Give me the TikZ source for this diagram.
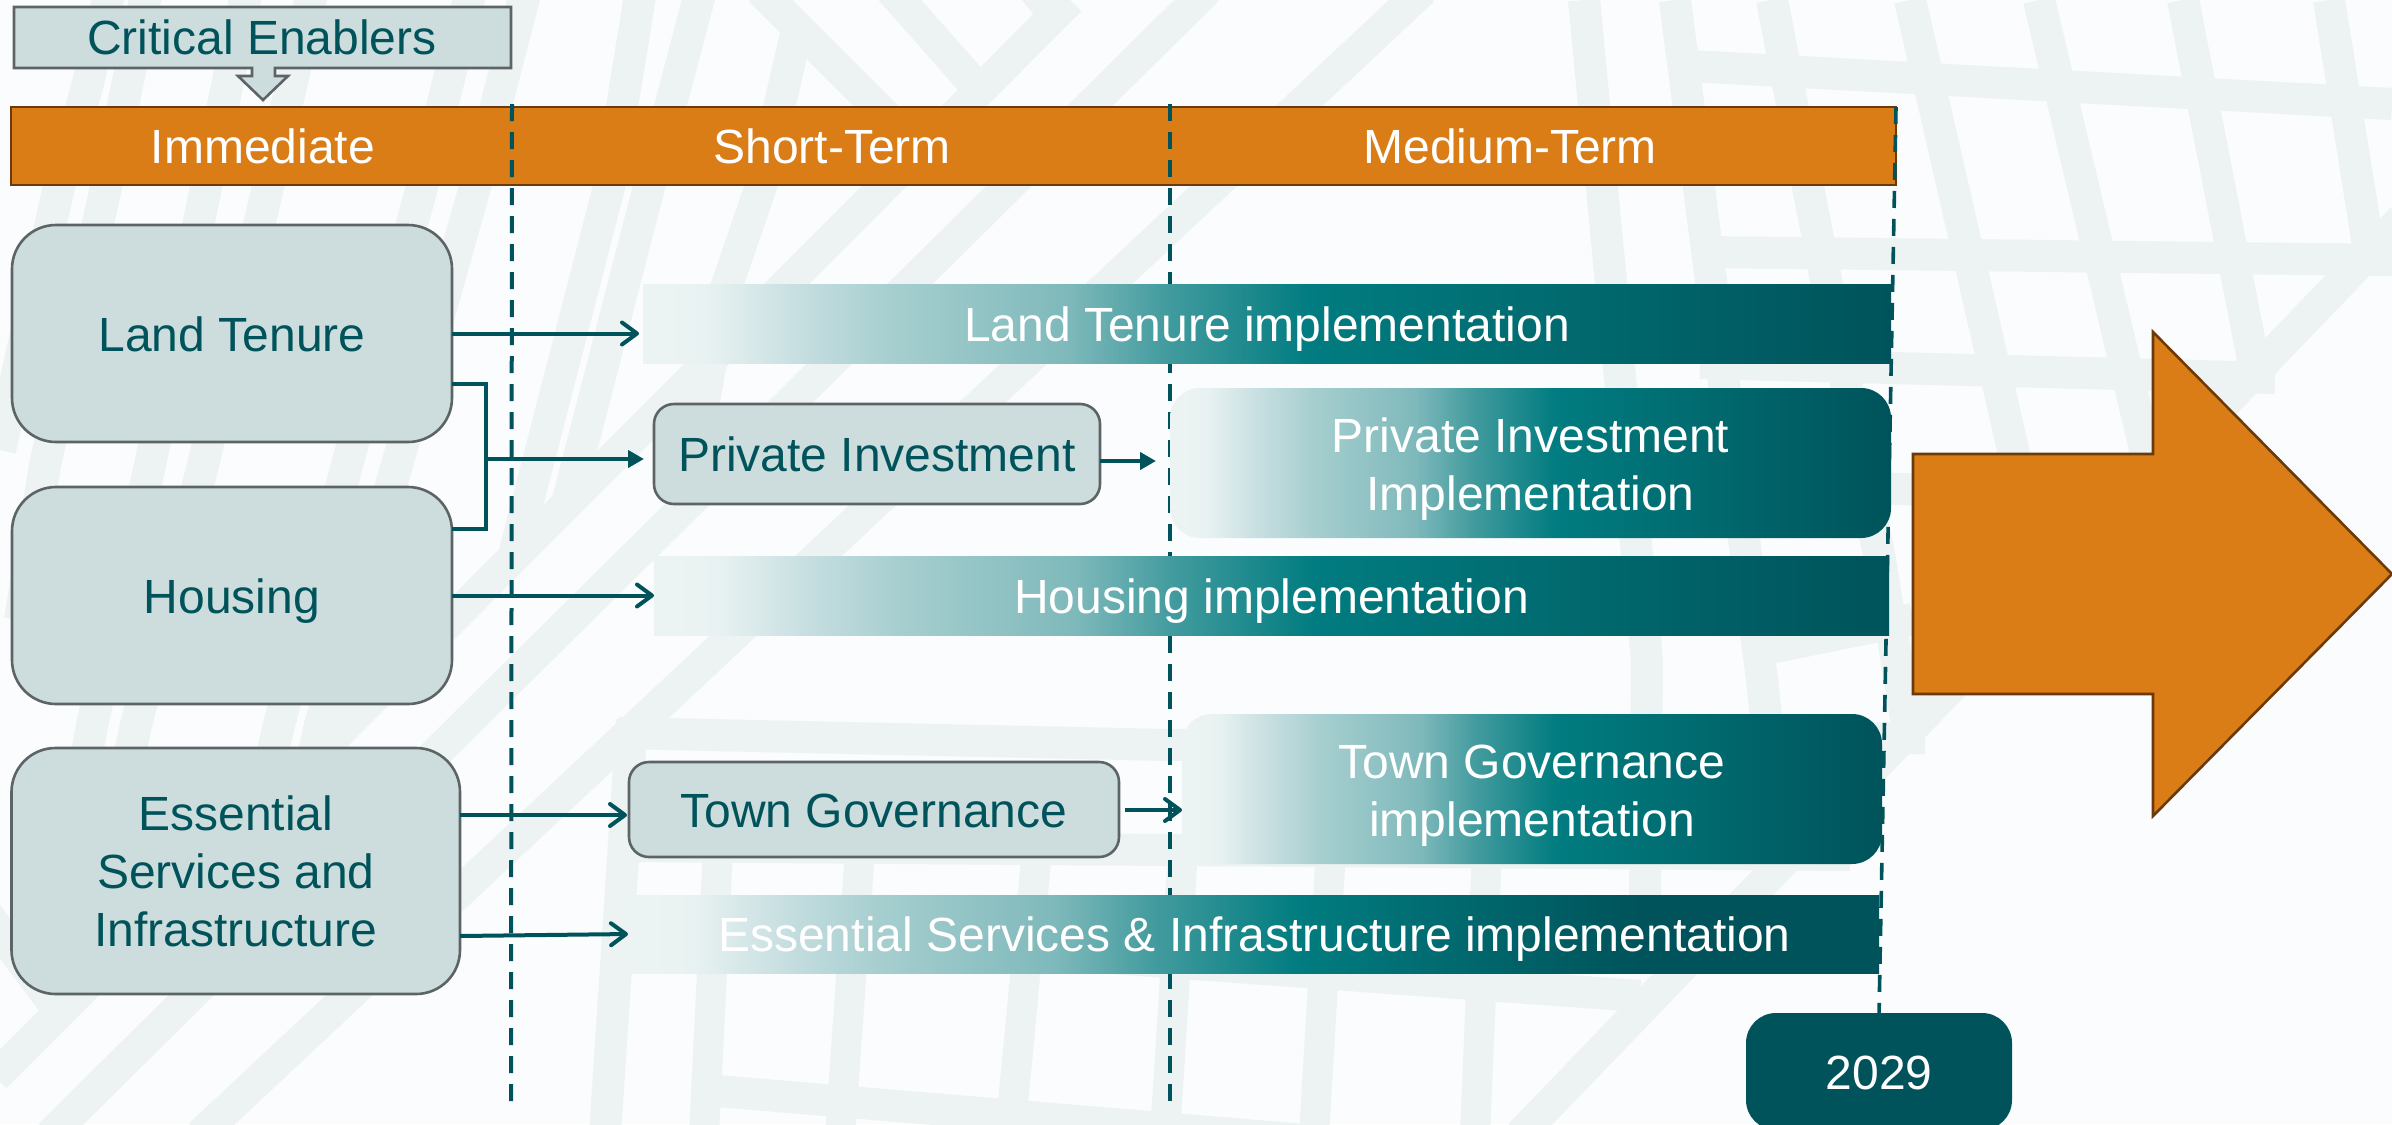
\documentclass[tikz,border=0pt]{standalone}
\usepackage{fontspec}
\setmainfont{Liberation Sans}
\usetikzlibrary{arrows.meta,calc}
\definecolor{bgc}{HTML}{FBFCFE}
\definecolor{streetc}{HTML}{ECF3F2}
\definecolor{tealc}{HTML}{00535A}
\definecolor{boxc}{HTML}{CDDDDD}
\definecolor{edgec}{HTML}{5C6465}
\definecolor{orangec}{HTML}{DB7D17}
\definecolor{brownc}{HTML}{6B3A0A}
\definecolor{ga}{HTML}{ECF3F3}
\definecolor{gb}{HTML}{E9F2F2}
\definecolor{gc}{HTML}{C4DDDF}
\definecolor{gd}{HTML}{A6CECF}
\definecolor{gdd}{HTML}{7FB9BB}
\definecolor{ge}{HTML}{429B9E}
\definecolor{gf}{HTML}{017C80}
\pgfdeclarehorizontalshading{implshade}{100bp}{color(0bp)=(ga); color(25bp)=(ga); color(27.5bp)=(gb); color(31.5bp)=(gc); color(35bp)=(gd); color(42bp)=(gdd); color(46bp)=(ge); color(51.7bp)=(gf); color(75bp)=(tealc); color(100bp)=(tealc)}
\pgfdeclarehorizontalshading{implshadeb}{100bp}{color(0bp)=(ga); color(25bp)=(ga); color(27.5bp)=(gb); color(31.5bp)=(gc); color(35bp)=(gd); color(42bp)=(gdd); color(46bp)=(ge); color(51.7bp)=(gf); color(65.5bp)=(tealc); color(100bp)=(tealc)}
\newcommand{\topgap}{\rule{0pt}{23pt}}
\tikzset{
  street/.style={draw=streetc,line width=16pt},
  txt/.style={font=\fontsize{24}{29}\selectfont,inner sep=0pt,outer sep=0pt,align=center},
  one/.style={text height=21.5pt,text depth=4pt},
  tealtxt/.style={txt,text=tealc},
  whitetxt/.style={txt,text=white},
  sbox/.style={tealtxt,draw=edgec,line width=1.3pt,fill=boxc},
  bigbox/.style={sbox,rounded corners=22pt},
  midbox/.style={sbox,rounded corners=10pt},
  implbar/.style={whitetxt,shade,shading=implshade,shading angle=0},
  implbarb/.style={whitetxt,shade,shading=implshadeb,shading angle=0},
  timeline/.style={draw=tealc,line width=2pt,dash pattern=on 8.5pt off 5.5pt},
  orangeshape/.style={fill=orangec,draw=brownc,line width=1.3pt},
  conn/.style={draw=tealc,line width=2pt},
  openarrow/.style={conn,-{Straight Barb[length=7.5pt,width=11pt,line width=2pt,round]}},
  fillarrow/.style={conn,-{Triangle[length=8pt,width=8.5pt]}}
}
\begin{document}
\begin{tikzpicture}[x=0.5pt,y=-0.5pt]
\useasboundingbox (0,0) rectangle (2392,1124);
\fill[bgc] (0,0) rectangle (2392,1124);
% background street pattern: right-hand grid
\draw[street] (1584,0) -- (1647,660) -- (1645,900);
\draw[street] (1675,0) -- (1762,680) -- (1768,735);
\draw[street] (1772,0) -- (1880,560) -- (1908,730);
\draw[street] (1910,0) -- (2020,480);
\draw[street] (2039,0) -- (2150,470);
\draw[street] (2183,0) -- (2258,385);
\draw[street] (2329,0) -- (2372,270);
\draw[street] (1690,66) -- (2392,104);
\draw[street] (1705,252) -- (2392,260);
\draw[street] (1700,363) -- (2275,378);
\draw[street] (1640,480) -- (1930,490);
\draw[street] (1755,651) -- (1913,619);
% near-vertical slanted streets, left
\draw[street] (110,-10) -- (87,87) -- (59,187) -- (0,450);
\draw[street] (147,-10) -- (106,187) -- (45,465) -- (20,620);
\draw[street] (247,-10) -- (206,187) -- (150,465) -- (92,725) -- (70,850);
\draw[street] (313,-10) -- (268,187) -- (203,465) -- (136,725) -- (110,850);
\draw[street] (471,-10) -- (422,187) -- (347,465) -- (279,725) -- (250,850);
\draw[street] (526,-10) -- (475,187) -- (397,465) -- (320,725) -- (300,820);
\draw[street] (641,-10) -- (609,187) -- (514,555);
\draw[street] (701,-10) -- (649,187) -- (568,500);
\draw[street] (797,30) -- (761,186) -- (722,300) -- (690,480);
% diagonals
\draw[street] (1070,0) -- (-5,1077);
\draw[street] (1207,-10) -- (50,1135);
\draw[street] (1423,-10) -- (200,1135);
\draw[street] (2402,219) -- (1520,1135);
\draw[street] (760,-10) -- (890,120);
\draw[street] (891,-10) -- (975,85);
\draw[street] (1030,-15) -- (1055,15);
\draw[street] (-20,905) -- (60,1012);
% lower grid
\draw[street] (618,733) -- (1169,745) -- (1925,738);
\draw[street] (625,846) -- (1850,855);
\draw[street] (632,720) -- (605,1135);
\draw[street,line width=15pt] (718,850) -- (704,1135);
\draw[street,line width=15pt] (860,850) -- (840,1135);
\draw[street,line width=15pt] (1037,850) -- (1010,1135);
\draw[street,line width=15pt] (1183,850) -- (1165,1135);
\draw[street,line width=15pt] (1331,850) -- (1314,1135);
\draw[street,line width=15pt] (1487,850) -- (1475,1135);
\draw[street] (1000,950) -- (1640,996);
\draw[street] (705,1090) -- (1510,1157);
% header band
\node[orangeshape,minimum width=942.5pt,minimum height=39pt,inner sep=0pt] (header) at (953.5,146) {};
\node[whitetxt,one] (immediate) at (263,146) {Immediate};
\node[whitetxt,one] (shortterm) at (832,146) {Short-Term};
\node[whitetxt,one] (mediumterm) at (1510,146) {Medium-Term};
% time lines
\coordinate (la) at (512,104);
\coordinate (lb) at (511,1103);
\coordinate (lc) at (1170,104);
\coordinate (ld) at (1170,1103);
\coordinate (le) at (1896,107);
\coordinate (lf) at (1879,1015);
\draw[timeline] (la) -- (lb);
\draw[timeline] (lc) -- (ld);
\draw[timeline,line width=1.8pt] (le) -- (lf);
% callout
\draw[draw=edgec,line width=1.3pt,fill=boxc,line join=miter] (14,7) -- (511,7) -- (511,68) -- (275,68) -- (275,76) -- (288,76) -- (263,100) -- (238,76) -- (252,76) -- (252,68) -- (14,68) -- cycle;
\node[tealtxt,one] (enablers) at (262,37) {Critical Enablers};
% left boxes
\node[bigbox,one,minimum width=220pt,minimum height=108.5pt] (land) at (232,333.5) {Land Tenure};
\node[bigbox,one,minimum width=220pt,minimum height=108.5pt] (housing) at (232,595.5) {Housing};
\node[bigbox,minimum width=224.25pt,minimum height=123pt] (essential) at (235.75,871) {Essential\\Services and\\Infrastructure};
% middle boxes
\node[midbox,one,minimum width=223pt,minimum height=50pt] (private) at (877,454) {Private Investment};
\node[midbox,one,minimum width=245pt,minimum height=47.5pt] (town) at (874,809.5) {Town Governance};
% implementation bars
\node[implbar,one,minimum width=624pt,minimum height=39.5pt] (landimpl) at (1267,323.5) {Land Tenure implementation};
\node[implbar,rounded corners=15pt,minimum width=360.5pt,minimum height=75pt] (privimpl) at (1530.5,463) {\topgap Private Investment\\Implementation};
\node[implbar,one,minimum width=617.5pt,minimum height=39.5pt] (houseimpl) at (1271.5,595.5) {Housing implementation};
\node[implbar,rounded corners=15pt,minimum width=350pt,minimum height=75pt] (townimpl) at (1532,789) {\topgap Town Governance\\implementation};
\node[implbarb,one,minimum width=624.5pt,minimum height=39pt] (essimpl) at (1254.5,934) {Essential Services \& Infrastructure implementation};
% year
\node[whitetxt,one,fill=tealc,rounded corners=15pt,minimum width=133pt,minimum height=58.5pt] (year) at (1879,1071.5) {2029};
% big arrow
\draw[orangeshape,line join=miter] (1913,454) -- (2153,454) -- (2153,332) -- (2392,574) -- (2153,816) -- (2153,694) -- (1913,694) -- cycle;
% connectors
\coordinate (ba) at (land.east |- 0,384);
\coordinate (bb) at (486,384);
\coordinate (bc) at (486,529);
\coordinate (bd) at (housing.east |- 0,529);
\coordinate (be) at (486,459);
\coordinate (esa) at (essential.east |- 0,815);
\coordinate (esb) at (essential.east |- 0,936);
\coordinate (pa) at (private.east |- 0,461);
\coordinate (ta) at (1125,810);
\draw[conn] (ba) -- (bb) -- (bc) -- (bd);
\draw[openarrow,shorten >=2pt] (land.east) -- (land.east -| landimpl.west);
\draw[fillarrow,shorten >=5pt] (be) -- (be -| private.west);
\draw[openarrow] (housing.east) -- (houseimpl.west);
\draw[openarrow,shorten >=1pt] (esa) -- (esa -| town.west);
\draw[openarrow,shorten >=1pt] (esb) -- (essimpl.west);
\draw[fillarrow,shorten >=7pt] (pa) -- (pa -| privimpl.west);
\draw[openarrow] (ta) -- (ta -| townimpl.west);
\end{tikzpicture}
\end{document}
